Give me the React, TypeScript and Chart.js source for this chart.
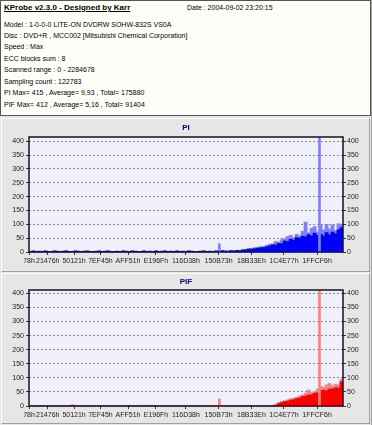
import React, { useEffect, useRef } from 'react';
import { Chart, registerables } from 'chart.js';
Chart.register(...registerables);

const X_MAX = 2284678;
const xTickLabels = ['78h', '21476h', '50121h', '7EF45h', 'AFF51h', 'E196Fh', '116D38h', '150B73h', '18B33Eh', '1C4E77h', '1FFCF6h'];
const yTickMax = 400;
const piMax = 415;
const pifMax = 412;

const piMain = [
  2, 4, 1, 3, 2, 4, 1, 2, 4, 3,
  2, 3, 4, 2, 1, 4, 3, 2, 3, 4,
  2, 1, 3, 4, 2, 3, 4, 2, 1, 3,
  2, 4, 3, 2, 4, 3, 2, 1, 4, 2,
  3, 2, 4, 1, 3, 4, 2, 3, 2, 4,
  1, 3, 2, 4, 3, 2, 1, 3, 4, 2,
  3, 2, 4, 3, 5, 4, 3, 5, 4, 6,
  5, 7, 8, 10, 11, 12, 14, 15, 17, 19,
  22, 26, 25, 31, 30, 40, 38, 46, 43, 52,
  50, 57, 55, 63, 58, 68, 60, 64, 58, 70,
  62, 72, 66, 80, 88,
];
const piPeak = [
  2, 4, 1, 3, 2, 4, 1, 2, 4, 3,
  2, 3, 4, 2, 1, 4, 3, 2, 3, 4,
  2, 1, 3, 4, 2, 3, 4, 2, 1, 3,
  2, 4, 3, 2, 4, 3, 2, 1, 4, 2,
  3, 2, 4, 1, 3, 4, 2, 3, 2, 4,
  1, 3, 2, 4, 3, 2, 1, 3, 4, 2,
  3, 2, 4, 3, 5, 4, 3, 5, 4, 6,
  6, 9, 10, 13, 12, 16, 17, 20, 19, 24,
  28, 30, 38, 36, 45, 48, 56, 60, 52, 64,
  58, 75, 108, 70, 86, 92, 72, 96, 80, 100,
  84, 98, 78, 102, 100,
];
const pifMain = [
  0, 0, 0, 0, 0, 0, 0, 0, 0, 0,
  0, 0, 0, 0, 3, 0, 0, 0, 0, 0,
  0, 0, 0, 0, 0, 0, 0, 0, 0, 0,
  0, 0, 0, 2, 0, 0, 0, 0, 2, 0,
  0, 0, 0, 0, 0, 0, 0, 0, 0, 0,
  0, 0, 0, 0, 0, 0, 0, 0, 0, 0,
  0, 0, 0, 0, 0, 0, 0, 0, 0, 0,
  0, 0, 0, 0, 0, 0, 0, 0, 0, 0,
  0, 0, 3, 9, 12, 16, 17, 21, 22, 27,
  28, 34, 35, 39, 40, 45, 47, 55, 56, 54,
  60, 61, 65, 64, 86,
];
const pifPeak = [
  0, 0, 0, 0, 0, 0, 0, 0, 0, 0,
  0, 0, 0, 0, 3, 0, 0, 0, 0, 0,
  0, 0, 0, 0, 0, 0, 0, 0, 0, 0,
  0, 0, 0, 2, 0, 0, 0, 0, 2, 0,
  0, 0, 0, 0, 0, 0, 0, 0, 0, 0,
  0, 0, 0, 0, 0, 0, 0, 0, 0, 0,
  0, 0, 0, 0, 0, 0, 0, 0, 0, 0,
  0, 0, 0, 0, 0, 0, 0, 0, 0, 0,
  0, 1, 5, 12, 16, 19, 22, 26, 28, 31,
  36, 40, 46, 57, 48, 52, 60, 70, 66, 75,
  80, 72, 78, 74, 95,
];
const spikeLba = [1385000, 2113700];
const piSpikes = [30, 415];
const pifSpikes = [25, 412];

const headerTitle = 'KProbe v2.3.0 - Designed by Karr';
const headerDate = 'Date : 2004-09-02 23:20:15';
const headerLines = [
  'Model : 1-0-0-0 LITE-ON DVDRW SOHW-832S  VS0A',
  'Disc : DVD+R , MCC002 [Mitsubishi Chemical Corporation]',
  'Speed : Max',
  'ECC blocks sum : 8',
  'Scanned range : 0 - 2284678',
  'Sampling count : 122783',
  'PI Max= 415 , Average= 9,93 , Total= 175880',
  'PIF Max= 412 , Average= 5,16 , Total= 91404',
];

const FONT = '"Liberation Sans", Arial, sans-serif';

const framePlugin = {
  id: 'frame',
  beforeDraw(chart: any) {
    const { ctx, chartArea: a } = chart;
    ctx.save();
    ctx.fillStyle = '#f0f0fc';
    ctx.fillRect(a.left, a.top, a.right - a.left, a.bottom - a.top);
    ctx.restore();
  },
  afterDatasetsDraw(chart: any) {
    const { ctx, chartArea: a } = chart;
    ctx.save();
    ctx.strokeStyle = '#141420';
    ctx.lineWidth = 1.5;
    ctx.strokeRect(a.left, a.top, a.right - a.left, a.bottom - a.top);
    ctx.restore();
  },
};

function binPoints(values: number[]) {
  const w = X_MAX / values.length;
  return values.map((y, i) => ({ x: (i + 0.5) * w, y }));
}

function makeConfig(title: string, titlePad: { top: number; bottom: number }, yMax: number,
  main: number[], peak: number[], spikes: number[], dark: string, light: string): any {
  const tickVals = xTickLabels.map((s) => parseInt(s, 16));
  const yScale = (position: 'left' | 'right', onArea: boolean) => ({
    type: 'linear',
    position,
    min: 0,
    max: yMax,
    afterFit: (s: any) => { s.width = 29; },
    border: { display: false, dash: [2, 2] },
    grid: {
      drawOnChartArea: onArea,
      color: '#8a8a8a',
      lineWidth: 1,
      tickLength: 3,
      tickColor: '#333',
      tickBorderDash: [],
    },
    ticks: {
      stepSize: 50,
      includeBounds: false,
      autoSkip: false,
      padding: position === 'left' ? 2 : 1,
      color: '#222',
      font: { family: FONT, size: 7 },
      callback: (v: number) => (v <= yTickMax ? String(v) : ''),
    },
  });
  return {
    type: 'bar',
    data: {
      datasets: [
        { data: spikeLba.map((x, i) => ({ x, y: spikes[i] })), backgroundColor: light, barThickness: 2, order: 0 },
        { data: binPoints(main), backgroundColor: dark, barThickness: 3.2, order: 1 },
        { data: binPoints(peak), backgroundColor: light, barThickness: 3.2, order: 2 },
      ],
    },
    options: {
      animation: false,
      responsive: false,
      events: [],
      layout: { padding: 0 },
      datasets: { bar: { grouped: false, borderWidth: 0, yAxisID: 'y' } },
      plugins: {
        legend: { display: false },
        tooltip: { enabled: false },
        title: {
          display: true,
          text: title,
          color: '#000080',
          font: { family: FONT, size: 8, weight: 'bold', lineHeight: 1 },
          padding: titlePad,
        },
      },
      scales: {
        x: {
          type: 'linear',
          min: 0,
          max: X_MAX,
          offset: false,
          afterFit: (s: any) => { s.height = 16; },
          afterBuildTicks: (s: any) => { s.ticks = tickVals.map((value) => ({ value })); },
          border: { display: false },
          grid: { drawOnChartArea: false, offset: false, tickLength: 3, color: '#333' },
          ticks: {
            autoSkip: false,
            maxRotation: 0,
            padding: 2,
            color: '#222',
            font: { family: FONT, size: 7 },
            callback: (_v: number, i: number) => xTickLabels[i],
          },
        },
        y: yScale('left', true),
        y2: yScale('right', false),
      },
    },
    plugins: [framePlugin],
  };
}

export default function App() {
  const c1 = useRef<HTMLCanvasElement>(null);
  const c2 = useRef<HTMLCanvasElement>(null);
  useEffect(() => {
    const a = new Chart(c1.current as HTMLCanvasElement,
      makeConfig('PI', { top: 4, bottom: 5 }, piMax, piMain, piPeak, piSpikes, '#0000ff', '#8080ff'));
    const b = new Chart(c2.current as HTMLCanvasElement,
      makeConfig('PIF', { top: 3, bottom: 4 }, pifMax, pifMain, pifPeak, pifSpikes, '#ff0000', '#ff8080'));
    return () => { a.destroy(); b.destroy(); };
  }, []);

  const txt: React.CSSProperties = {
    position: 'absolute', left: 3, fontSize: 7, lineHeight: '9px', whiteSpace: 'nowrap', color: '#000',
  };
  return (
    <div style={{ position: 'relative', width: 372, height: 425, background: '#e6e6e6', overflow: 'hidden', fontFamily: FONT }}>
      <style>{'body{margin:0}'}</style>
      <div style={{ position: 'absolute', left: 0, top: 0, width: 371, height: 116, boxSizing: 'border-box', border: '1px solid #555', background: '#fffffa' }}>
        <div style={{ ...txt, top: 1.5, fontSize: 8, fontWeight: 'bold', textDecoration: 'underline' }}>{headerTitle}</div>
        <div style={{ ...txt, top: 1.5, left: 186 }}>{headerDate}</div>
        {headerLines.map((l, i) => (
          <div key={i} style={{ ...txt, top: 18.5 + i * 11.43 }}>{l}</div>
        ))}
      </div>
      <div style={{ position: 'absolute', left: 1, top: 118, width: 369, height: 154, boxSizing: 'border-box', borderStyle: 'solid', borderWidth: 1, borderColor: '#fff #a0a0a0 #a0a0a0 #fff' }} />
      <div style={{ position: 'absolute', left: 1, top: 273, width: 369, height: 151, boxSizing: 'border-box', borderStyle: 'solid', borderWidth: 1, borderColor: '#fff #a0a0a0 #a0a0a0 #fff' }} />
      <div style={{ position: 'absolute', left: 371, top: 0, width: 1, height: 425, background: '#a0a0a0' }} />
      <canvas ref={c1} width={372} height={148} style={{ position: 'absolute', left: 0, top: 120 }} />
      <canvas ref={c2} width={372} height={147} style={{ position: 'absolute', left: 0, top: 275 }} />
    </div>
  );
}
